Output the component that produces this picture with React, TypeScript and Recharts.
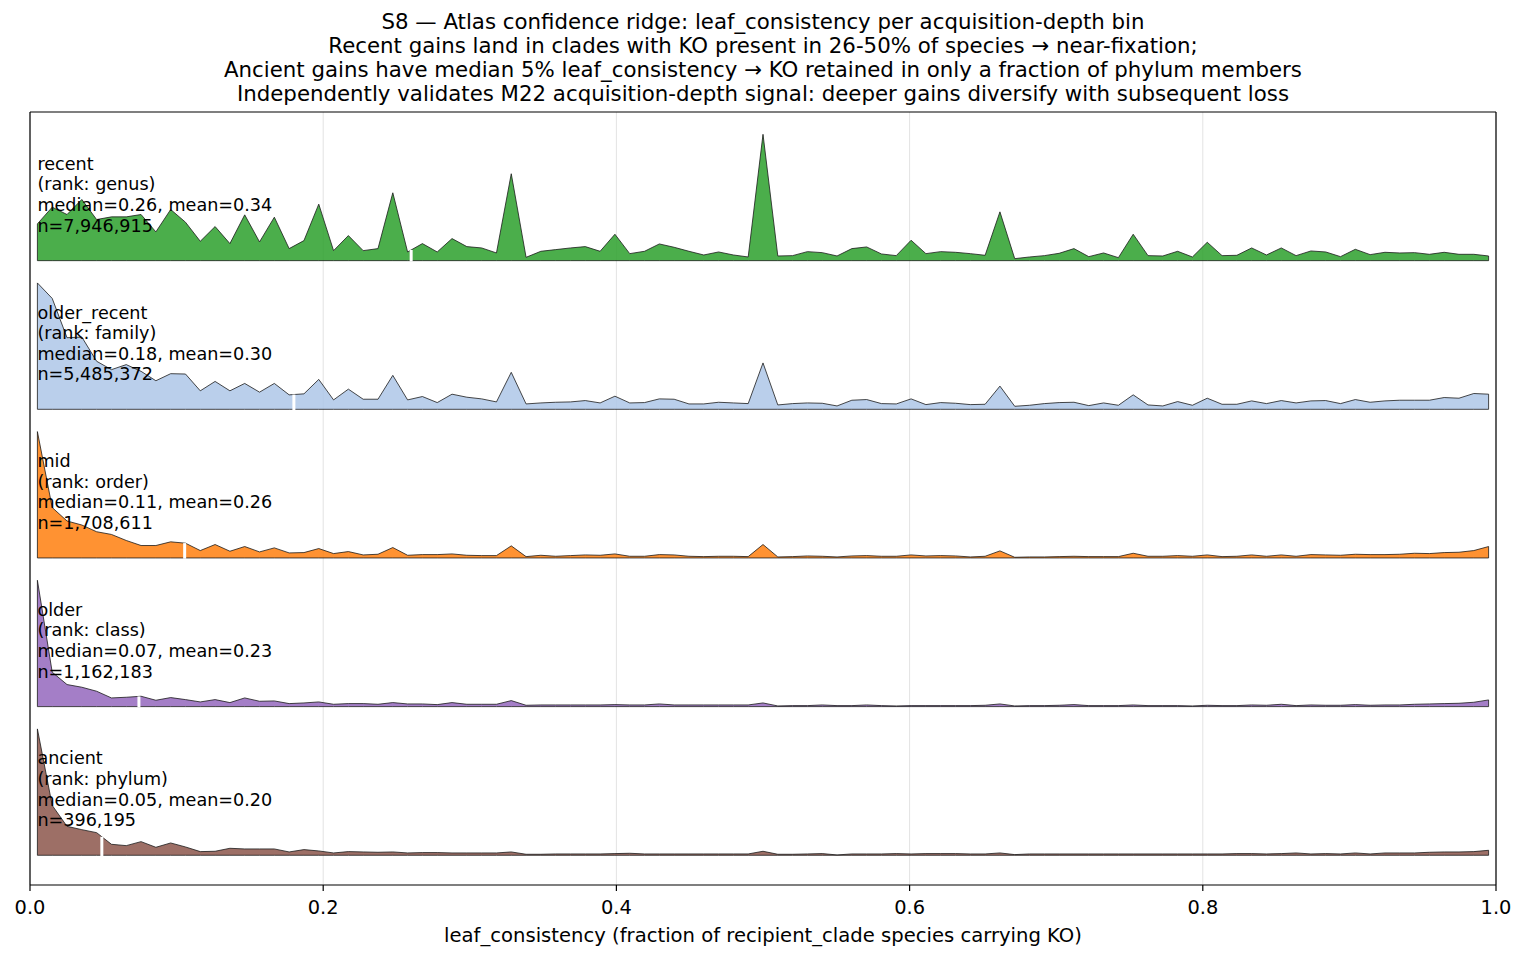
import React from "react";
import {
  ComposedChart,
  Area,
  XAxis,
  YAxis,
  CartesianGrid,
  ReferenceLine,
  ReferenceDot,
} from "recharts";

const FONT = "'DejaVu Sans', sans-serif";

// histogram of leaf_consistency, 99 equal bins on [0, 1]
const BIN_COUNT = 99;
const BIN_CENTERS = Array.from({ length: BIN_COUNT }, (_, k) => (k + 0.5) / BIN_COUNT);

// relative density per bin (arbitrary units, each ridge scaled to its own max)
const RECENT = [
  110, 160, 138, 183, 123, 131, 131, 138, 86, 153,
  115, 58, 102, 51, 137, 56, 130, 36, 60, 169,
  30, 75, 30, 36, 203, 26, 51, 26, 66, 42,
  38, 23, 260, 10, 28, 33, 38, 42, 28, 79,
  21, 28, 50, 40, 28, 17, 26, 17, 11, 378,
  14, 15, 27, 24, 14, 36, 41, 20, 15, 61,
  21, 27, 25, 21, 16, 146, 6, 11, 15, 22,
  36, 12, 23, 9, 79, 15, 14, 28, 11, 55,
  15, 16, 38, 17, 38, 15, 29, 26, 12, 34,
  18, 25, 23, 24, 19, 25, 19, 19, 14,
];
const OLDER_RECENT = [
  376, 330, 213, 215, 143, 118, 133, 113, 85, 106,
  105, 55, 83, 55, 77, 51, 77, 43, 46, 89,
  28, 60, 30, 30, 101, 28, 38, 20, 45, 36,
  31, 22, 110, 16, 19, 21, 22, 26, 19, 39,
  19, 20, 31, 30, 16, 16, 21, 19, 17, 138,
  13, 17, 19, 18, 10, 27, 29, 17, 16, 31,
  14, 20, 18, 14, 15, 69, 9, 12, 17, 20,
  21, 11, 19, 12, 43, 13, 10, 23, 12, 33,
  15, 15, 25, 17, 26, 19, 25, 26, 17, 29,
  21, 25, 27, 27, 27, 35, 33, 47, 45,
];
const MID = [
  376, 150, 110, 98, 78, 70, 52, 37, 37, 48,
  44, 22, 40, 20, 34, 18, 30, 15, 16, 28,
  13, 19, 9, 11, 31, 8, 10, 10, 12, 8,
  7, 7, 36, 4, 8, 5, 7, 9, 8, 12,
  5, 5, 10, 9, 5, 4, 5, 5, 4, 40,
  3, 4, 6, 5, 3, 6, 7, 5, 5, 9,
  6, 7, 6, 3, 5, 21, 2, 3, 3, 4,
  5, 4, 4, 4, 14, 5, 5, 7, 5, 9,
  4, 5, 9, 5, 9, 5, 10, 9, 8, 11,
  10, 10, 11, 14, 13, 16, 17, 22, 34,
];
const OLDER = [
  378, 103, 66, 58, 46, 26, 28, 31, 19, 27,
  21, 14, 21, 12, 26, 16, 17, 9, 11, 14,
  7, 9, 9, 7, 12, 8, 8, 6, 12, 7,
  7, 7, 18, 4, 5, 5, 5, 5, 5, 6,
  5, 5, 8, 5, 5, 5, 5, 5, 5, 11,
  2, 3, 3, 5, 3, 3, 5, 3, 2, 3,
  3, 3, 3, 3, 4, 8, 2, 3, 3, 4,
  6, 3, 3, 3, 5, 3, 3, 3, 2, 4,
  3, 3, 5, 4, 7, 3, 5, 4, 4, 6,
  4, 5, 5, 7, 8, 9, 10, 13, 20,
];
const ANCIENT = [
  380, 150, 87, 77, 68, 33, 29, 41, 24, 37,
  25, 11, 12, 21, 19, 19, 19, 10, 17, 13,
  7, 11, 10, 9, 10, 7, 8, 8, 7, 7,
  7, 7, 10, 3, 3, 4, 4, 4, 4, 5,
  6, 4, 4, 4, 4, 4, 4, 4, 4, 12,
  3, 3, 4, 5, 1, 4, 4, 4, 5, 4,
  5, 5, 5, 4, 4, 7, 2, 4, 4, 4,
  4, 4, 4, 4, 4, 4, 4, 4, 4, 4,
  4, 5, 5, 4, 5, 7, 4, 5, 4, 7,
  4, 7, 7, 7, 9, 10, 10, 11, 15,
];

const SERIES_KEYS = ["recent", "olderRecent", "mid", "older", "ancient"];
const SERIES_VALUES = [RECENT, OLDER_RECENT, MID, OLDER, ANCIENT];
const BIN_NAMES = ["recent", "older_recent", "mid", "older", "ancient"];
const RANKS = ["genus", "family", "order", "class", "phylum"];
const MEDIANS = [0.26, 0.18, 0.1055, 0.0743, 0.049];
const MEANS = [0.34, 0.3, 0.26, 0.23, 0.2];
const COUNTS = [7946915, 5485372, 1708611, 1162183, 396195];
const COLORS = ["#2ca02c", "#aec7e8", "#ff7f0e", "#9467bd", "#8c564b"];

const X_TICKS = [0, 0.2, 0.4, 0.6, 0.8, 1.0];
const Y_DOMAIN = [-0.2, 5.0];
const RIDGE_HEIGHT = 0.85;

const TITLE_LINES = [
  "S8 \u2014 Atlas confidence ridge: leaf_consistency per acquisition-depth bin",
  "Recent gains land in clades with KO present in 26-50% of species \u2192 near-fixation;",
  "Ancient gains have median 5% leaf_consistency \u2192 KO retained in only a fraction of phylum members",
  "Independently validates M22 acquisition-depth signal: deeper gains diversify with subsequent loss",
];
const X_LABEL = "leaf_consistency (fraction of recipient_clade species carrying KO)";

const rows = BIN_CENTERS.map((x, k) => {
  const row: Record<string, number> = { x };
  SERIES_KEYS.forEach((key, i) => {
    row[key] = SERIES_VALUES[i][k];
  });
  return row;
});

const scaleOf = (values: number[]) => RIDGE_HEIGHT / Math.max(...values);
const baseOf = (i: number) => SERIES_KEYS.length - 1 - i;

function heightAt(values: number[], x: number) {
  const pos = x * BIN_COUNT - 0.5;
  const k = Math.max(0, Math.min(BIN_COUNT - 2, Math.floor(pos)));
  const t = Math.max(0, Math.min(1, pos - k));
  return values[k] * (1 - t) + values[k + 1] * t;
}

function RidgeLabel(props: any) {
  const { cx, cy, lines } = props;
  return (
    <text x={cx} y={cy} fontFamily={FONT} fontSize={17.6} fill="#000" dominantBaseline="central">
      {lines.map((l: string, i: number) => (
        <tspan key={i} x={cx} y={cy + 1 + (i - 1.5) * 20.6} dominantBaseline="central">
          {l}
        </tspan>
      ))}
    </text>
  );
}

export default function App() {
  return (
    <div style={{ position: "absolute", left: 0, top: 0, width: 1526, height: 959, background: "#fff" }}>
      <div
        style={{
          position: "absolute",
          left: 0,
          top: 10,
          width: 1526,
          textAlign: "center",
          fontFamily: FONT,
          fontSize: 21.3,
          lineHeight: "24px",
          color: "#000",
        }}
      >
        {TITLE_LINES.map((t) => (
          <div key={t}>{t}</div>
        ))}
      </div>
      <ComposedChart
        width={1526}
        height={959}
        data={rows}
        margin={{ top: 112, right: 30, bottom: 14, left: 30 }}
      >
        <CartesianGrid horizontal={false} stroke="#e3e3e3" strokeWidth={1} />
        <XAxis
          type="number"
          dataKey="x"
          domain={[0, 1]}
          ticks={X_TICKS}
          allowDataOverflow
          tickFormatter={(v: number) => v.toFixed(1)}
          height={60}
          tickSize={6}
          tickMargin={9}
          axisLine={{ stroke: "#000", strokeWidth: 1.2 }}
          tickLine={{ stroke: "#000", strokeWidth: 1.2 }}
          tick={{ fill: "#000", fontSize: 19.4, fontFamily: FONT }}
          label={{
            value: X_LABEL,
            position: "insideBottom",
            offset: 3,
            fill: "#000",
            fontSize: 19.6,
            fontFamily: FONT,
          }}
        />
        <YAxis hide type="number" domain={Y_DOMAIN} allowDataOverflow width={0} />

        {SERIES_KEYS.map((key, i) => {
          const base = baseOf(i);
          const s = scaleOf(SERIES_VALUES[i]);
          return (
            <Area
              key={key}
              type="linear"
              dataKey={(d: any) => [base, base + d[key] * s]}
              fill={COLORS[i]}
              fillOpacity={0.85}
              stroke="#1a1a1a"
              strokeWidth={0.8}
              isAnimationActive={false}
              dot={false}
              activeDot={false}
            />
          );
        })}

        {SERIES_KEYS.map((key, i) => {
          const base = baseOf(i);
          const s = scaleOf(SERIES_VALUES[i]);
          const vals = SERIES_VALUES[i];
          const x0 = BIN_CENTERS[0];
          const x1 = BIN_CENTERS[BIN_COUNT - 1];
          return [
            <ReferenceLine
              key={key + "-l"}
              segment={[{ x: x0, y: base }, { x: x0, y: base + vals[0] * s }]}
              stroke="#1a1a1a"
              strokeWidth={0.8}
              ifOverflow="visible"
            />,
            <ReferenceLine
              key={key + "-r"}
              segment={[{ x: x1, y: base }, { x: x1, y: base + vals[BIN_COUNT - 1] * s }]}
              stroke="#1a1a1a"
              strokeWidth={0.8}
              ifOverflow="visible"
            />,
            <ReferenceLine
              key={key + "-m"}
              segment={[
                { x: MEDIANS[i], y: base - 0.005 },
                { x: MEDIANS[i], y: base + heightAt(vals, MEDIANS[i]) * s },
              ]}
              stroke="#fff"
              strokeWidth={3}
              ifOverflow="visible"
            />,
          ];
        })}

        {SERIES_KEYS.map((key, i) => (
          <ReferenceDot
            key={key + "-label"}
            x={BIN_CENTERS[0]}
            y={baseOf(i) + 0.45}
            r={0}
            ifOverflow="visible"
            shape={(p: any) => (
              <RidgeLabel
                cx={p.cx}
                cy={p.cy}
                lines={[
                  BIN_NAMES[i],
                  `(rank: ${RANKS[i]})`,
                  `median=${MEDIANS[i].toFixed(2)}, mean=${MEANS[i].toFixed(2)}`,
                  `n=${COUNTS[i].toLocaleString("en-US")}`,
                ]}
              />
            )}
          />
        ))}

        <ReferenceLine x={0} stroke="#000" strokeWidth={1.2} />
        <ReferenceLine x={1} stroke="#000" strokeWidth={1.2} />
        <ReferenceLine y={Y_DOMAIN[1]} stroke="#000" strokeWidth={1.2} />
      </ComposedChart>
    </div>
  );
}
